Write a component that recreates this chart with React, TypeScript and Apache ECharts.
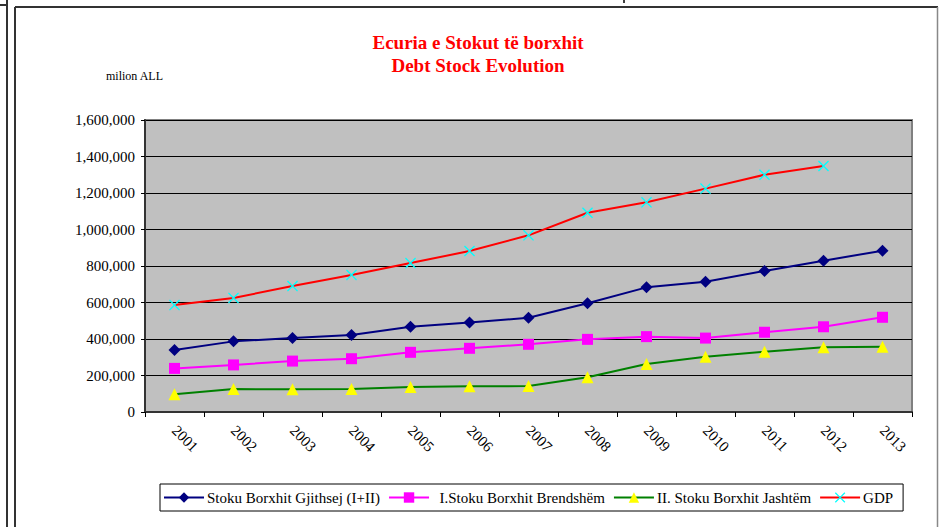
import React, { useEffect, useRef } from "react";
import * as echarts from "echarts";

const years = ["2001", "2002", "2003", "2004", "2005", "2006", "2007", "2008", "2009", "2010", "2011", "2012", "2013"];
const totalStock = [340000, 387000, 405000, 422000, 467000, 491000, 516000, 596000, 683000, 714000, 773000, 829000, 884000];
const domesticStock = [239000, 258000, 279000, 292000, 327000, 349000, 371000, 398000, 413000, 405000, 437000, 467000, 519000];
const externalStock = [97000, 126000, 124000, 126000, 137000, 141000, 142000, 190000, 263000, 303000, 330000, 355000, 358000];
const gdp = [586000, 625000, 690000, 751000, 816000, 882000, 968000, 1092000, 1149000, 1224000, 1300000, 1348000, null];

const seriesNames = [
  "Stoku Borxhit Gjithsej (I+II)",
  "\u00a0 I.Stoku Borxhit Brendshëm",
  "II. Stoku Borxhit Jashtëm",
  "GDP",
];

const xPath = "path://M1,0 L6,5 L11,0 L12,1 L7,6 L12,11 L11,12 L6,7 L1,12 L0,11 L5,6 L0,1 Z";
const FONT = "Liberation Serif";

export default function App() {
  const ref = useRef<HTMLDivElement>(null);
  useEffect(() => {
    if (!ref.current) return;
    const chart = echarts.init(ref.current, null, { renderer: "svg" });
    chart.setOption({
      animation: false,
      backgroundColor: "#ffffff",
      textStyle: { fontFamily: FONT },
      title: {
        text: "Ecuria e Stokut të borxhit\nDebt Stock Evolution",
        left: 473,
        textAlign: "center",
        top: 26,
        textStyle: { color: "#ff0000", fontSize: 19, fontWeight: "bold", fontFamily: FONT, lineHeight: 23 },
      },
      graphic: [
        { type: "line", shape: { x1: 7, y1: 0, x2: 7, y2: 527 }, style: { stroke: "#333", lineWidth: 2 } },
        { type: "line", shape: { x1: 0, y1: 5, x2: 7, y2: 5 }, style: { stroke: "#333", lineWidth: 2 } },
        { type: "line", shape: { x1: 15, y1: 7, x2: 15, y2: 527 }, style: { stroke: "#333", lineWidth: 2 } },
        { type: "line", shape: { x1: 15, y1: 7, x2: 938, y2: 7 }, style: { stroke: "#333", lineWidth: 2 } },
        { type: "line", shape: { x1: 937.5, y1: 7, x2: 937.5, y2: 527 }, style: { stroke: "#888", lineWidth: 1.5 } },
        { type: "line", shape: { x1: 624, y1: 0, x2: 624, y2: 3 }, style: { stroke: "#000", lineWidth: 1.5 } },
        {
          type: "text",
          left: 106,
          top: 70,
          style: { text: "milion ALL", fontSize: 12, fontFamily: FONT, fill: "#000" },
        },
      ],
      legend: {
        left: 160,
        top: 484,
        orient: "horizontal",
        data: seriesNames,
        itemWidth: 40,
        itemHeight: 13,
        itemGap: 8,
        padding: [6, 10, 6, 3],
        borderColor: "#000",
        borderWidth: 1,
        textStyle: { fontSize: 15, fontFamily: FONT, color: "#000", padding: [0, 0, 0, -2] },
      },
      grid: {
        left: 145,
        right: 27,
        top: 120,
        bottom: 115,
        show: true,
        backgroundColor: "#c0c0c0",
        borderColor: "#808080",
        borderWidth: 2,
      },
      xAxis: {
        type: "category",
        data: years,
        boundaryGap: true,
        axisLine: { lineStyle: { color: "#333", width: 2 } },
        axisTick: { show: true, length: 5, inside: false, lineStyle: { color: "#000" }, alignWithLabel: false },
        axisLabel: { rotate: -45, margin: 16, fontSize: 15, fontFamily: FONT, color: "#000" },
        splitLine: { show: false },
      },
      yAxis: {
        type: "value",
        min: 0,
        max: 1600000,
        interval: 200000,
        axisLine: { show: true, lineStyle: { color: "#333", width: 2 } },
        axisTick: { show: true, length: 4, inside: false, lineStyle: { color: "#000" } },
        axisLabel: {
          fontSize: 15,
          fontFamily: FONT,
          color: "#000",
          margin: 10,
          formatter: (v: number) => v.toLocaleString("en-US"),
        },
        splitLine: { show: true, lineStyle: { color: "#000", width: 1 } },
      },
      series: [
        {
          name: seriesNames[0],
          type: "line",
          data: totalStock,
          symbol: "diamond",
          symbolSize: 12,
          lineStyle: { color: "#000080", width: 2 },
          itemStyle: { color: "#000080" },
        },
        {
          name: seriesNames[1],
          type: "line",
          data: domesticStock,
          symbol: "rect",
          symbolSize: 11,
          lineStyle: { color: "#ff00ff", width: 2 },
          itemStyle: { color: "#ff00ff" },
        },
        {
          name: seriesNames[2],
          type: "line",
          data: externalStock,
          symbol: "triangle",
          symbolSize: 12,
          lineStyle: { color: "#008000", width: 2 },
          itemStyle: { color: "#ffff00" },
        },
        {
          name: seriesNames[3],
          type: "line",
          data: gdp,
          symbol: xPath,
          symbolSize: 11,
          lineStyle: { color: "#ff0000", width: 2 },
          itemStyle: { color: "#00ffff" },
        },
      ],
    });
    return () => chart.dispose();
  }, []);
  return (
    <div
      ref={ref}
      style={{ position: "fixed", left: 0, top: 0, width: 939, height: 527, background: "#fff" }}
    />
  );
}
